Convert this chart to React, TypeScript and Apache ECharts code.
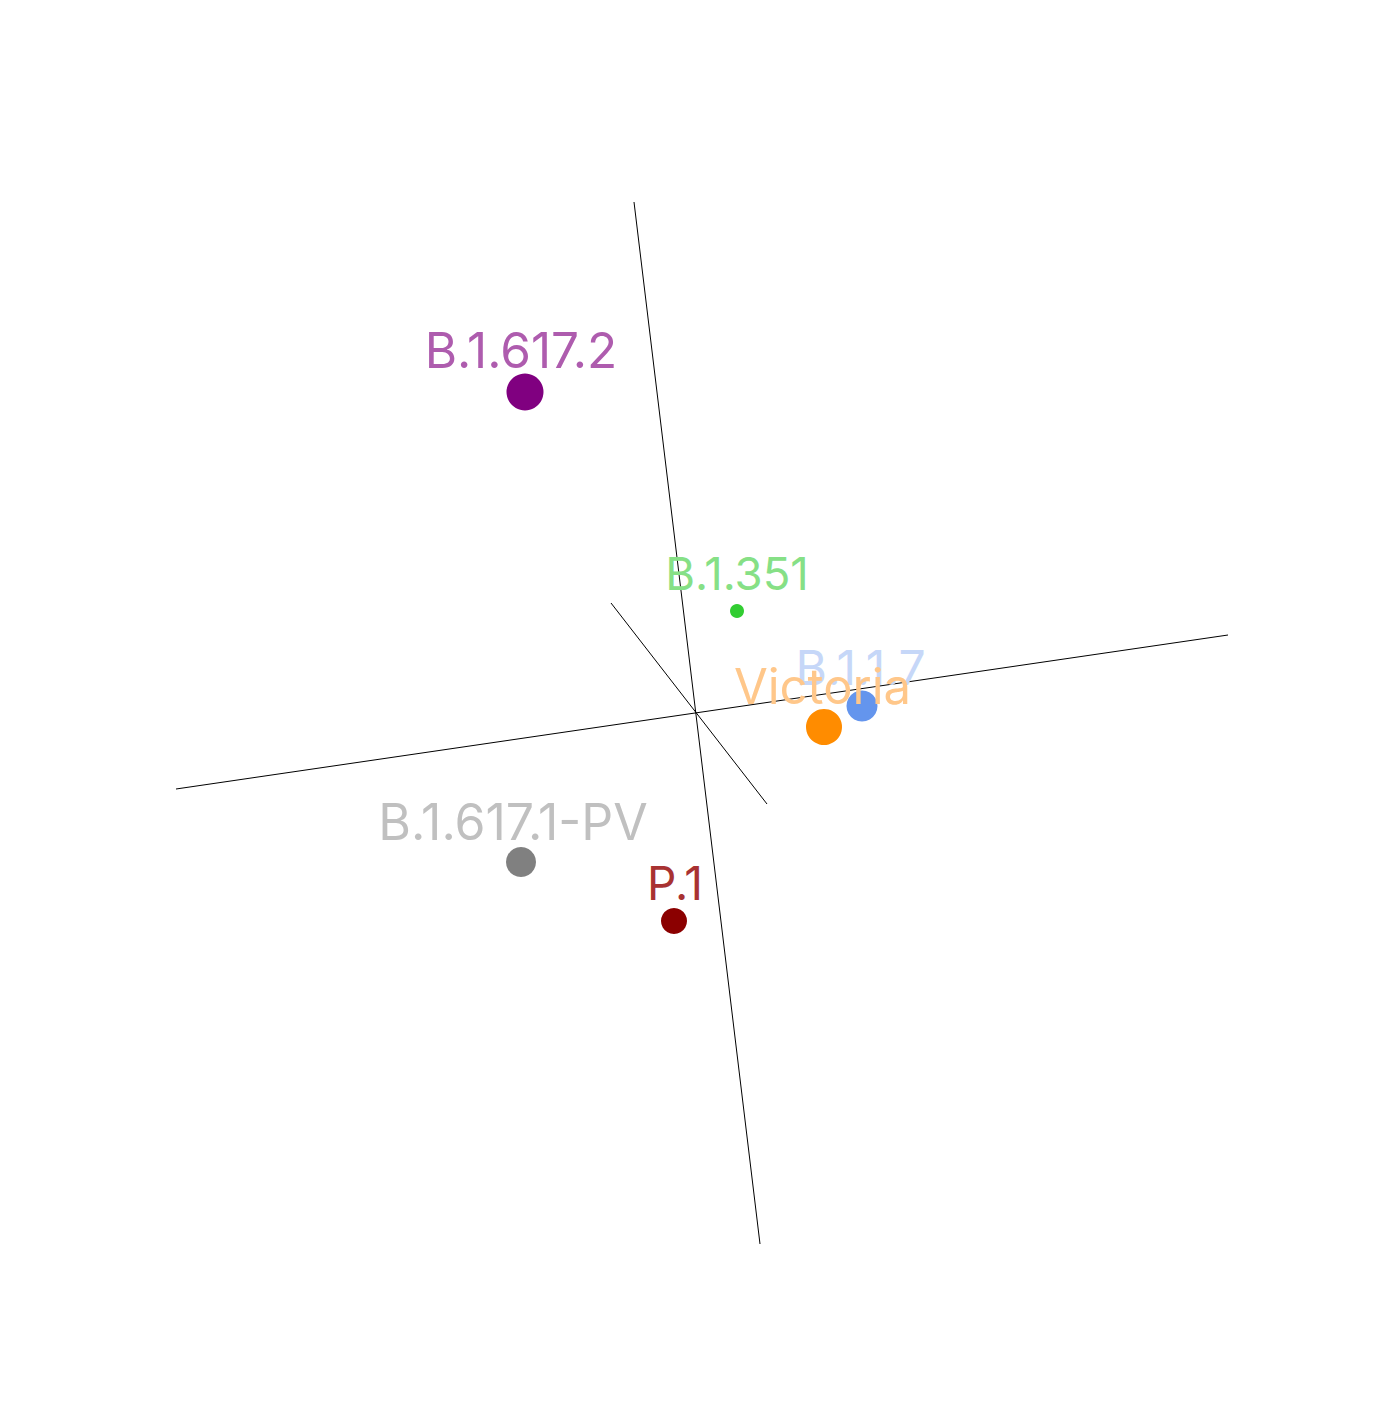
import React, { useEffect, useRef } from "react";
import * as echarts from "echarts";

// Projected map coordinates (antigenic units, origin at axes crossing)
const names = ["B.1.617.2", "B.1.351", "B.1.1.7", "Victoria", "B.1.617.1-PV", "P.1"];
const xs = [-1.70, 0.42, 1.67, 1.29, -1.74, -0.21];
const ys = [3.20, 1.01, 0.06, -0.15, -1.50, -2.09];
const sizes = [37, 14, 31, 36, 30, 26];
const pointColors = ["#800080", "#32cd32", "#6495ed", "#ff8c00", "#808080", "#8b0000"];
const labelColors = ["#ae5cae", "#86e086", "#c6d7f8", "#ffc78a", "#c0c0c0", "#a83232"];

// Label styling (perspective makes label sizes differ slightly)
const labelFont = [49.5, 45.5, 48, 49, 50, 46];
const labelOffsets = [[-4, -41.8], [0, -37.4], [-1.5, -38.3], [-1.5, -40.6], [-8, -40], [1, -37.6]];

// Three projected axes lines (start/end)
const axisLines = [
  [[-0.61, 5.10], [0.65, -5.32]],
  [[-5.19, -0.77], [5.33, 0.77]],
  [[-0.84, 1.09], [0.72, -0.92]],
];

export default function App() {
  const ref = useRef<HTMLDivElement>(null);
  useEffect(() => {
    const chart = echarts.init(ref.current!, null, { renderer: "svg" });
    const series: any[] = axisLines.map((l) => ({
      type: "line",
      data: l,
      symbol: "none",
      silent: true,
      lineStyle: { color: "#000", width: 1 },
      z: 1,
    }));
    names.forEach((n, i) => {
      series.push({
        type: "scatter",
        name: n,
        z: 2 + i,
        data: [[xs[i], ys[i]]],
        symbolSize: sizes[i],
        itemStyle: { color: pointColors[i], opacity: 1 },
        label: {
          show: true,
          formatter: n,
          position: "inside",
          align: "center",
          verticalAlign: "middle",
          offset: labelOffsets[i],
          color: labelColors[i],
          fontSize: labelFont[i],
          fontFamily: "Inter",
          fontWeight: 400,
        },
      });
    });
    chart.setOption({
      animation: false,
      backgroundColor: "#fff",
      grid: { left: 0, right: 0, top: 0, bottom: 0 },
      xAxis: { type: "value", min: -6.95, max: 6.97, show: false, splitLine: { show: false } },
      yAxis: { type: "value", min: -7.14, max: 7.12, show: false, splitLine: { show: false } },
      series,
    });
    return () => chart.dispose();
  }, []);
  return (
    <div
      ref={ref}
      style={{ position: "fixed", left: 0, top: 0, width: 1392, height: 1426, background: "#fff" }}
    />
  );
}
